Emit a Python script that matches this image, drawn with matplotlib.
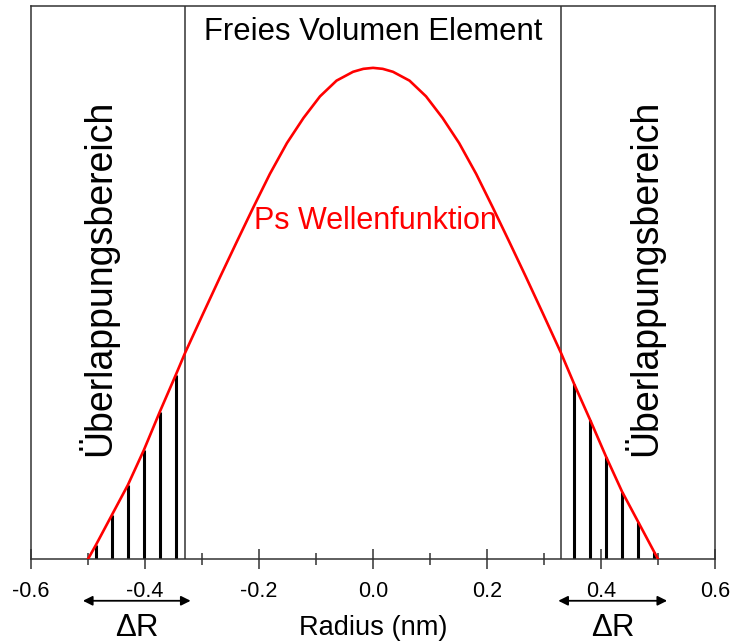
import numpy as np
import matplotlib
matplotlib.use("Agg")
import matplotlib.pyplot as plt

plt.rcParams['font.family'] = ['Liberation Sans', 'DejaVu Sans']

# Ps wave function (x in nm, y arbitrary units)
radius = [-0.500, -0.486, -0.458, -0.430, -0.402, -0.374, -0.346, -0.330,
          -0.298, -0.268, -0.239, -0.210, -0.181, -0.151, -0.122, -0.093,
          -0.064, -0.035, -0.017, 0.000, 0.017, 0.035, 0.064, 0.093, 0.122,
          0.151, 0.181, 0.210, 0.239, 0.268, 0.298, 0.330, 0.353, 0.381,
          0.409, 0.437, 0.465, 0.493, 0.500]
psi = [0.000, 0.029, 0.090, 0.151, 0.222, 0.300, 0.375, 0.419,
       0.500, 0.575, 0.646, 0.716, 0.784, 0.847, 0.898, 0.942,
       0.974, 0.992, 0.998, 1.000, 0.998, 0.992, 0.974, 0.942, 0.898,
       0.847, 0.784, 0.716, 0.646, 0.575, 0.500, 0.419, 0.356, 0.283,
       0.208, 0.137, 0.076, 0.015, 0.000]

# overlap region boundaries and hatch positions
borders = [-0.33, 0.33]
hatch_left = [-0.486, -0.458, -0.430, -0.402, -0.374, -0.346]
hatch_right = [0.353, 0.381, 0.409, 0.437, 0.465, 0.493]
xticks = [-0.6, -0.4, -0.2, 0.0, 0.2, 0.4, 0.6]

fig = plt.figure(figsize=(7.32, 6.43), dpi=100)
ax = fig.add_axes([0.0424, 0.1306, 0.9344, 0.8601])

ax.plot(radius, psi, color='#ff0000', lw=1.9, zorder=3, solid_joinstyle='round')

for xb in borders:
    ax.axvline(xb, color='#333333', lw=1.1, zorder=2)

for xh in hatch_left + hatch_right:
    ax.vlines(xh, 0, np.interp(xh, radius, psi), color='black', lw=2.2, zorder=2)

ax.set_xlim(-0.6, 0.6)
ax.set_ylim(0, 1.126)
ax.set_yticks([])
ax.set_xticks(xticks)
ax.set_xticklabels(['%.1f' % t for t in xticks], fontsize=15.5)
ax.set_xticks(np.arange(-0.5, 0.6, 0.2), minor=True)
ax.tick_params(axis='x', which='major', direction='inout', length=15, width=1.1,
               color='#333333', pad=8.5)
ax.tick_params(axis='x', which='minor', direction='inout', length=8.6, width=1.1,
               color='#333333')
for s in ax.spines.values():
    s.set_color('#333333')
    s.set_linewidth(1.1)

ax.set_xlabel('Radius (nm)', fontsize=19.6, labelpad=9)

ax.text(0.0, 1.073, 'Freies Volumen Element', fontsize=22.3, ha='center', va='center')
ax.text(0.0035, 0.688, 'Ps Wellenfunktion', fontsize=22, color='#ff0000',
        ha='center', va='center')
ax.text(-0.484, 0.572, 'Überlappungsbereich', fontsize=27, rotation=90,
        ha='center', va='center')
ax.text(0.474, 0.572, 'Überlappungsbereich', fontsize=27, rotation=90,
        ha='center', va='center')

# Delta R arrows below the axis
for x0, x1 in [(-0.509, -0.320), (0.325, 0.516)]:
    ax.annotate('', xy=(x0, -0.085), xytext=(x1, -0.085), annotation_clip=False,
                arrowprops=dict(arrowstyle='<|-|>', color='black', lw=1.3,
                                mutation_scale=14, shrinkA=0, shrinkB=0))
    ax.text((x0 + x1) / 2, -0.14, 'ΔR', fontsize=22.5, ha='center', va='center',
            clip_on=False)

fig.savefig('out.png', dpi=100)
